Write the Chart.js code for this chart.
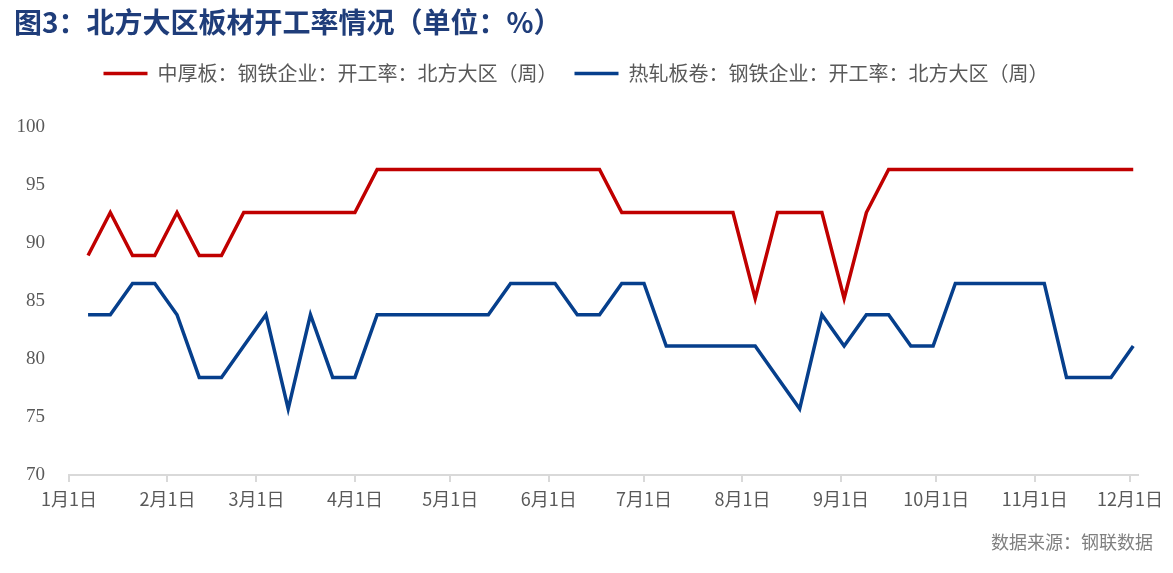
<!DOCTYPE html>
<html>
<head>
<meta charset="utf-8">
<script src="https://cdn.jsdelivr.net/npm/chart.js@4.4.0/dist/chart.umd.min.js"></script>
<style>
    html, body { margin: 0; padding: 0; background: #ffffff; }
    #box { width: 1173px; height: 573px; }
</style>
</head>
<body>
<div id="box"><canvas id="grafico"></canvas></div>
<script>
// semanas (2023)
var datas = [
    '01-07', '01-14', '01-21', '01-28',
    '02-04', '02-11', '02-18', '02-25',
    '03-04', '03-11', '03-18', '03-25',
    '04-01', '04-08', '04-15', '04-22', '04-29',
    '05-06', '05-13', '05-20', '05-27',
    '06-03', '06-10', '06-17', '06-24',
    '07-01', '07-08', '07-15', '07-22', '07-29',
    '08-05', '08-12', '08-19', '08-26',
    '09-02', '09-09', '09-16', '09-23', '09-30',
    '10-07', '10-14', '10-21', '10-28',
    '11-04', '11-11', '11-18', '11-25',
    '12-02'
];

var zhonghouban = [
    88.9, 92.6, 88.9, 88.9, 92.6, 88.9, 88.9, 92.6, 92.6, 92.6, 92.6, 92.6, 92.6,
    96.3, 96.3, 96.3, 96.3, 96.3, 96.3, 96.3, 96.3, 96.3, 96.3, 96.3,
    92.6, 92.6, 92.6, 92.6, 92.6, 92.6,
    85.2, 92.6, 92.6, 92.6, 85.2, 92.6,
    96.3, 96.3, 96.3, 96.3, 96.3, 96.3, 96.3, 96.3, 96.3, 96.3, 96.3, 96.3
];

var rezha = [
    83.8, 83.8, 86.5, 86.5, 83.8, 78.4, 78.4, 81.1, 83.8, 75.7, 83.8, 78.4, 78.4, 83.8,
    83.8, 83.8, 83.8, 83.8, 83.8,
    86.5, 86.5, 86.5, 83.8, 83.8, 86.5, 86.5,
    81.1, 81.1, 81.1, 81.1, 81.1,
    78.4, 75.7, 83.8, 81.1, 83.8, 83.8, 81.1, 81.1,
    86.5, 86.5, 86.5, 86.5, 86.5,
    78.4, 78.4, 78.4, 81.1
];

var nomes = ['中厚板：钢铁企业：开工率：北方大区（周）', '热轧板卷：钢铁企业：开工率：北方大区（周）'];
var meses = ['01-01', '02-01', '03-01', '04-01', '05-01', '06-01', '07-01', '08-01', '09-01', '10-01', '11-01', '12-01'];
var rotulosMes = ['1月1日', '2月1日', '3月1日', '4月1日', '5月1日', '6月1日', '7月1日', '8月1日', '9月1日', '10月1日', '11月1日', '12月1日'];

function diaDoAno(s) {
    var p = s.split('-');
    var d = new Date(2023, Number(p[0]) - 1, Number(p[1]));
    return Math.round((d - new Date(2023, 0, 1)) / 86400000);
}

var diasMes = meses.map(diaDoAno);

function pontos(valores) {
    var arr = [];
    for (let i = 0; i < datas.length; i++) {
        arr.push({ x: diaDoAno(datas[i]), y: valores[i] });
    }
    return arr;
}

var fonteCJK = "'Noto Sans CJK SC', 'Noto Sans', sans-serif";

var fonteDados = {
    id: 'fonteDados',
    beforeInit: function (chart) {
        var fitOriginal = chart.legend.fit;
        chart.legend.fit = function () {
            fitOriginal.call(this);
            this.height += 33;
        };
    },
    afterDraw: function (chart) {
        var ctx = chart.ctx;
        ctx.save();
        ctx.font = '18px ' + fonteCJK;
        ctx.fillStyle = '#808080';
        ctx.textAlign = 'right';
        ctx.textBaseline = 'middle';
        ctx.fillText('数据来源：钢联数据', chart.width - 20, 542);
        ctx.restore();
    }
};

var grafico = new Chart(document.getElementById('grafico'), {
    type: 'line',
    data: {
        datasets: [{
            label: nomes[0],
            data: pontos(zhonghouban),
            borderColor: '#C00000',
            backgroundColor: '#C00000',
            borderWidth: 3.5,
            pointRadius: 0,
            tension: 0
        }, {
            label: nomes[1],
            data: pontos(rezha),
            borderColor: '#063F8C',
            backgroundColor: '#063F8C',
            borderWidth: 3.5,
            pointRadius: 0,
            tension: 0
        }]
    },
    options: {
        responsive: true,
        maintainAspectRatio: false,
        animation: false,
        layout: {
            padding: { left: 14, right: 35, top: 0, bottom: 0 }
        },
        plugins: {
            title: {
                display: true,
                text: '图3：北方大区板材开工率情况（单位：%）',
                align: 'start',
                color: '#1F3D7A',
                font: { family: fonteCJK, size: 28, weight: 'bold' },
                padding: { top: 6, bottom: 7 }
            },
            legend: {
                display: true,
                labels: {
                    usePointStyle: true,
                    pointStyle: 'line',
                    pointStyleWidth: 44,
                    color: '#595959',
                    padding: 17,
                    font: { family: fonteCJK, size: 20 }
                }
            },
            tooltip: { enabled: false }
        },
        scales: {
            x: {
                type: 'linear',
                min: 0,
                max: 336.5,
                afterBuildTicks: function (scale) {
                    scale.ticks = diasMes.map(function (v) { return { value: v }; });
                },
                afterFit: function (scale) {
                    scale.height = 98;
                },
                grid: {
                    drawOnChartArea: false,
                    drawTicks: true,
                    tickLength: 7,
                    color: '#D9D9D9',
                    lineWidth: 2
                },
                border: { display: true, color: '#D9D9D9', width: 2 },
                ticks: {
                    autoSkip: false,
                    maxRotation: 0,
                    padding: 6,
                    color: '#595959',
                    font: { family: fonteCJK, size: 18 },
                    callback: function (v) {
                        var k = diasMes.indexOf(v);
                        return k >= 0 ? rotulosMes[k] : '';
                    }
                }
            },
            y: {
                min: 70,
                max: 100,
                afterFit: function (scale) {
                    scale.width = 55;
                },
                grid: { display: false },
                border: { display: false },
                ticks: {
                    stepSize: 5,
                    padding: 16,
                    color: '#595959',
                    font: { family: "'Liberation Serif', 'Times New Roman', serif", size: 19 }
                }
            }
        }
    },
    plugins: [fonteDados]
});
</script>
</body>
</html>
